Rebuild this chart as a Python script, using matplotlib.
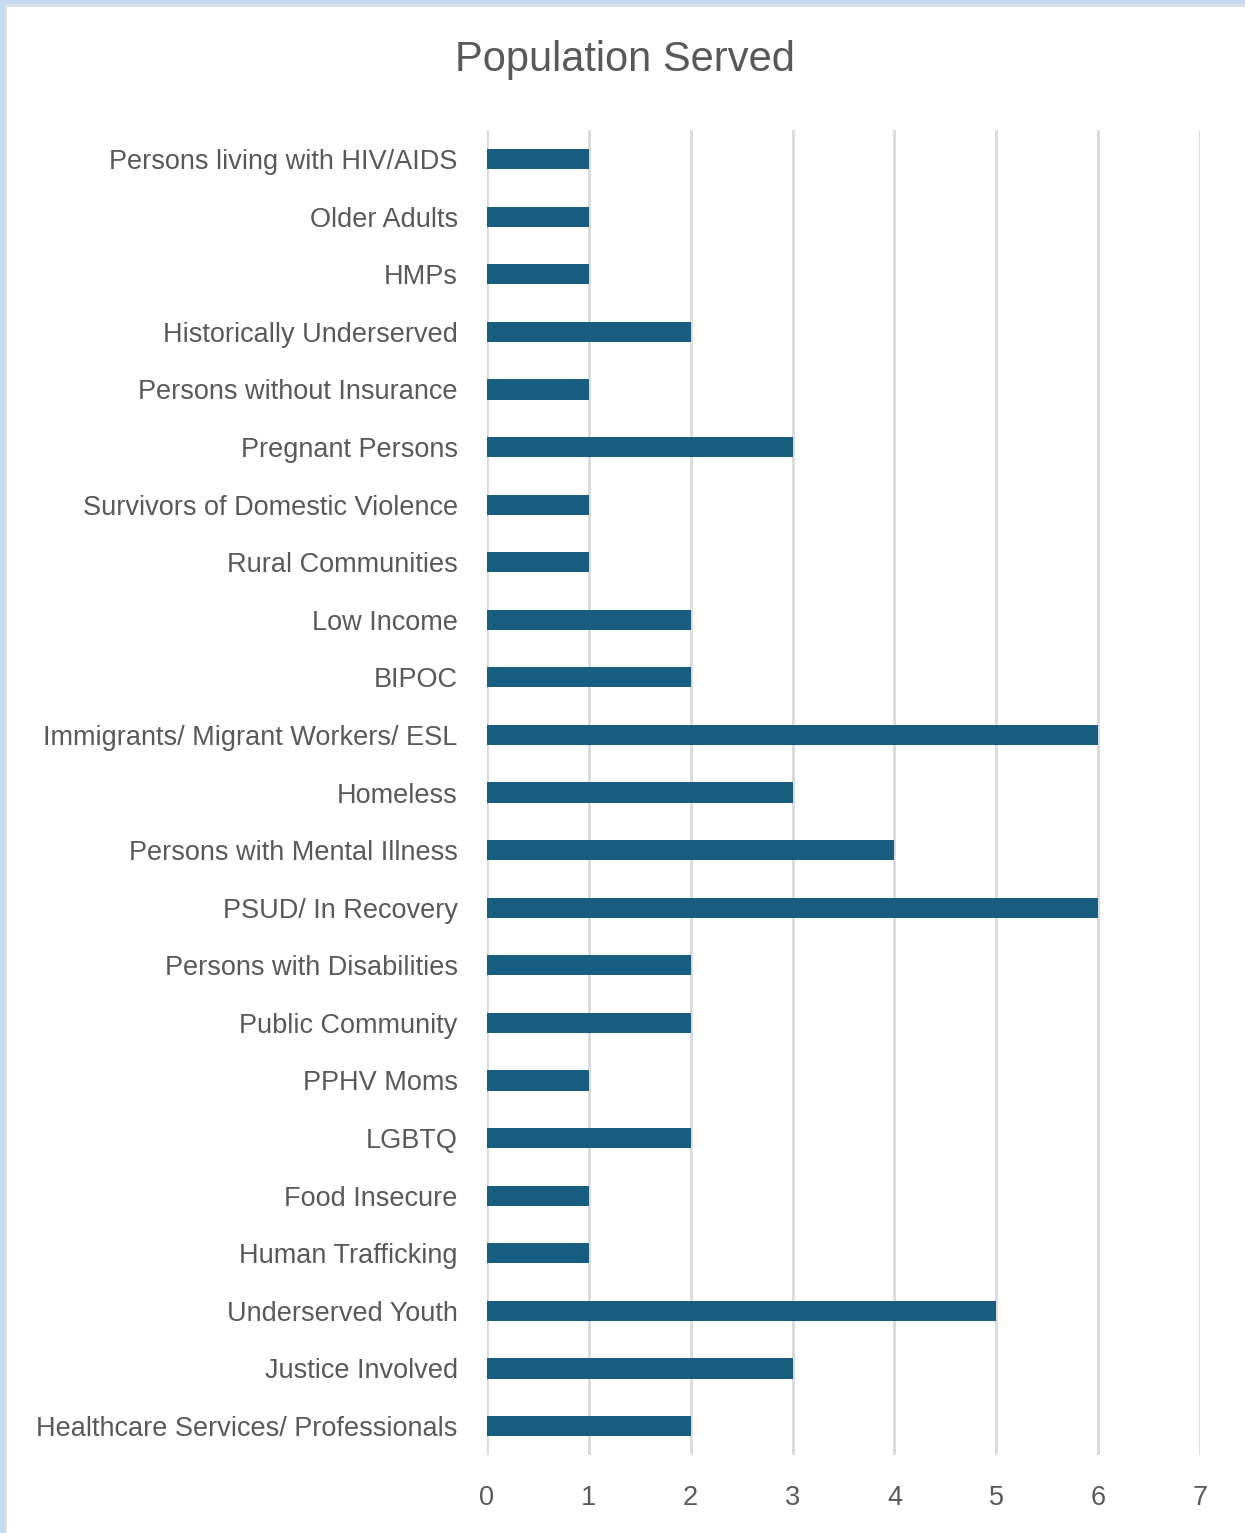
import matplotlib.pyplot as plt
from matplotlib.patches import Rectangle

categories = [
    "Persons living with HIV/AIDS",
    "Older Adults",
    "HMPs",
    "Historically Underserved",
    "Persons without Insurance",
    "Pregnant Persons",
    "Survivors of Domestic Violence",
    "Rural Communities",
    "Low Income",
    "BIPOC",
    "Immigrants/ Migrant Workers/ ESL",
    "Homeless",
    "Persons with Mental Illness",
    "PSUD/ In Recovery",
    "Persons with Disabilities",
    "Public Community",
    "PPHV Moms",
    "LGBTQ",
    "Food Insecure",
    "Human Trafficking",
    "Underserved Youth",
    "Justice Involved",
    "Healthcare Services/ Professionals",
]
counts = [1, 1, 1, 2, 1, 3, 1, 1, 2, 2, 6, 3, 4, 6, 2, 2, 1, 2, 1, 1, 5, 3, 2]
x_ticks = [0, 1, 2, 3, 4, 5, 6, 7]

plt.rcParams['font.family'] = ['Liberation Sans', 'DejaVu Sans']

text_color = "#595959"
bar_color = "#175e81"
grid_color = "#d9d9d9"

fig = plt.figure(figsize=(12.45, 15.33), dpi=100)

# light blue frame on the top and left edges (the rest is cropped off)
fig.patches.append(Rectangle((0, -0.1), 1.1, 1.1, transform=fig.transFigure,
                             facecolor="none", edgecolor="#c5d9f0", linewidth=9, zorder=5))
fig.patches.append(Rectangle((0.0048, -0.1), 1.1, 1.0968, transform=fig.transFigure,
                             facecolor="none", edgecolor="#e2e2e2", linewidth=1.2, zorder=5))

ax = fig.add_axes([0.391, 0.051, 0.573, 0.864])
y = list(range(len(categories)))
ax.barh(y, counts, height=0.35, color=bar_color, zorder=3)

ax.set_xlim(0, 7)
ax.set_ylim(len(categories) - 0.5, -0.5)
ax.set_xticks(x_ticks)
ax.set_yticks(y)
ax.set_yticklabels(categories)
ax.grid(axis="x", color=grid_color, linewidth=2, zorder=0)
ax.tick_params(axis="both", length=0, colors=text_color, labelsize=19.5)
ax.tick_params(axis="y", pad=21)
ax.tick_params(axis="x", pad=22)
for spine in ax.spines.values():
    spine.set_visible(False)

fig.text(0.502, 0.961, "Population Served", ha="center", va="center",
         fontsize=30, color=text_color)

plt.savefig("out.png", dpi=100)
